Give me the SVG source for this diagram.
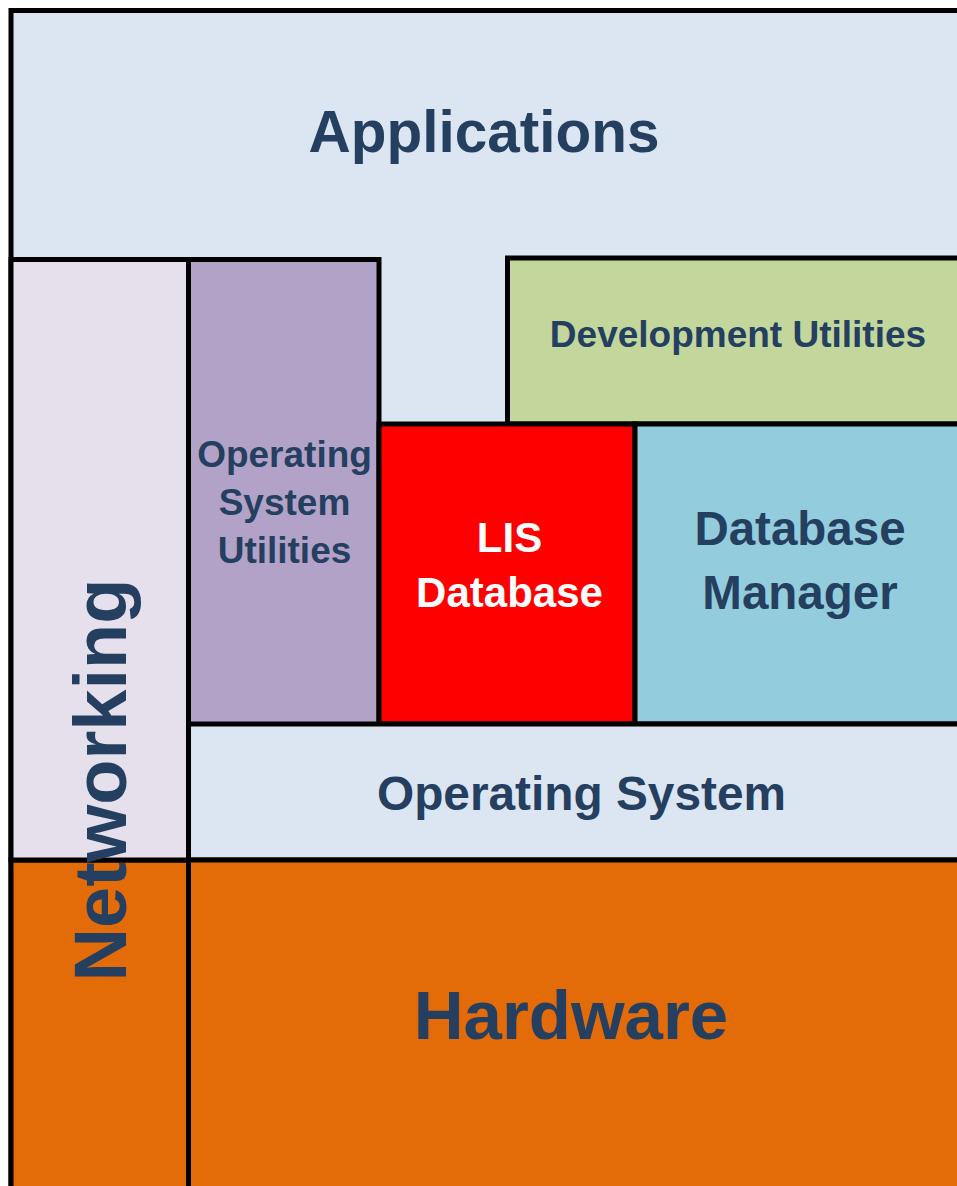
<svg xmlns="http://www.w3.org/2000/svg" width="957" height="1186" viewBox="0 0 957 1186">
  <style>
    .box { stroke: #000000; stroke-width: 5; }
    .lbl { font-family: "Liberation Sans", Arial, sans-serif; font-weight: bold; fill: #243f60; text-anchor: middle; }
    .lbl-w { font-family: "Liberation Sans", Arial, sans-serif; font-weight: bold; fill: #ffffff; text-anchor: middle; }
  </style>
  <rect width="957" height="1186" fill="#ffffff"/>

  <!-- top layer: applications -->
  <g id="applications">
    <rect class="box" x="11" y="10.5" width="1000" height="1250" fill="#dce6f2"/>
    <text class="lbl" x="484" y="152" font-size="58.5">Applications</text>
  </g>

  <g id="os-utilities">
    <rect class="box" x="188.5" y="259.5" width="190.5" height="465" fill="#b3a2c7"/>
    <text class="lbl" x="284.5" y="467" font-size="37">Operating</text>
    <text class="lbl" x="284.5" y="515" font-size="37">System</text>
    <text class="lbl" x="284.5" y="563" font-size="37">Utilities</text>
  </g>

  <g id="development-utilities">
    <rect class="box" x="507.5" y="258" width="500" height="166" fill="#c3d69b"/>
    <text class="lbl" x="738" y="347" font-size="37">Development Utilities</text>
  </g>

  <g id="lis-database">
    <rect class="box" x="379" y="424" width="256" height="300" fill="#ff0000"/>
    <text class="lbl-w" x="509.5" y="552" font-size="42">LIS</text>
    <text class="lbl-w" x="509.5" y="607" font-size="42">Database</text>
  </g>

  <g id="database-manager">
    <rect class="box" x="635" y="424" width="400" height="300" fill="#93cddd"/>
    <text class="lbl" x="800" y="545" font-size="47.5">Database</text>
    <text class="lbl" x="800" y="609" font-size="47.5">Manager</text>
  </g>

  <g id="operating-system">
    <rect class="box" x="188.5" y="724" width="800" height="136" fill="#dce6f2"/>
    <text class="lbl" x="581.5" y="810" font-size="47.8">Operating System</text>
  </g>

  <g id="hardware">
    <rect class="box" x="11" y="860" width="1000" height="400" fill="#e36c09"/>
    <line class="box" x1="188.5" y1="860" x2="188.5" y2="1200"/>
    <text class="lbl" x="571" y="1039" font-size="69">Hardware</text>
  </g>

  <!-- networking spans the side; its label runs down over the hardware layer -->
  <g id="networking">
    <rect class="box" x="11" y="259.5" width="177.5" height="600.5" fill="#e6e0ec"/>
    <text class="lbl" x="0" y="0" font-size="74" transform="translate(126 780) rotate(-90)">Networking</text>
  </g>

  <g id="connectors"></g>
</svg>
